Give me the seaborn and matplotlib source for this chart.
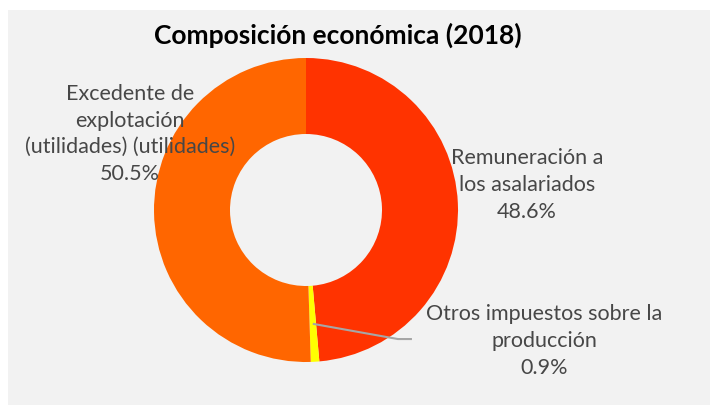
import numpy as np
import matplotlib
matplotlib.use("Agg")
import matplotlib.pyplot as plt
import seaborn as sns

categories = ["Remuneración a\nlos asalariados", "Otros impuestos sobre la\nproducción",
              "Excedente de\nexplotación\n(utilidades) (utilidades)"]
values = [48.6, 0.9, 50.5]
pct_labels = ["48.6%", "0.9%", "50.5%"]
colors = ["#ff3300", "#ffff00", "#ff6600"]
title = "Composición económica (2018)"

sns.set_theme(style="white")
plt.rcParams["font.family"] = ["Lato", "DejaVu Sans"]

W, H = 710, 406
fig = plt.figure(figsize=(W / 100, H / 100), dpi=100)
fig.patch.set_facecolor("white")
# gray chart area
fig.patches.append(matplotlib.patches.Rectangle((8 / W, 0), 1 - 8 / W, 1 - 11 / H,
                                                transform=fig.transFigure, facecolor="#f2f2f2",
                                                edgecolor="none", zorder=-5))

cx, cy, R = 306, 211, 152
ax = fig.add_axes([(cx - R) / W, (H - cy - R) / H, 2 * R / W, 2 * R / H])
ax.set_zorder(2)
ax.set_facecolor("none")
wedges, _ = ax.pie(values, colors=colors, startangle=90, counterclock=False,
                   radius=1.0, wedgeprops=dict(width=0.5, edgecolor="none"))
ax.set_xlim(-1, 1)
ax.set_ylim(-1, 1)
ax.axis("off")

txt_kw = dict(ha="center", va="center", fontsize=15.5, color="#474747", linespacing=1.42)
label_pos = [(1.454, 0.171), (1.566, -0.855), (-1.158, 0.507)]
for cat, pct, (x, y) in zip(categories, pct_labels, label_pos):
    ax.text(x, y, cat + "\n" + pct, **txt_kw)

# leader line for the small slice
cum = np.cumsum([0] + values[:-1])
mid = 90 - (cum[1] + values[1] / 2) / 100 * 360
r = 0.75
x0, y0 = r * np.cos(np.radians(mid)), r * np.sin(np.radians(mid))
ax.plot([x0, 0.605, 0.697], [y0, -0.849, -0.849], color="#a6a6a6", lw=1.5,
        clip_on=False, solid_capstyle="butt")

fig.text(337.5 / W, 1 - 35 / H, title, ha="center", va="center",
         fontsize=19, fontweight="bold", color="black")

fig.savefig("out.png", dpi=100)
